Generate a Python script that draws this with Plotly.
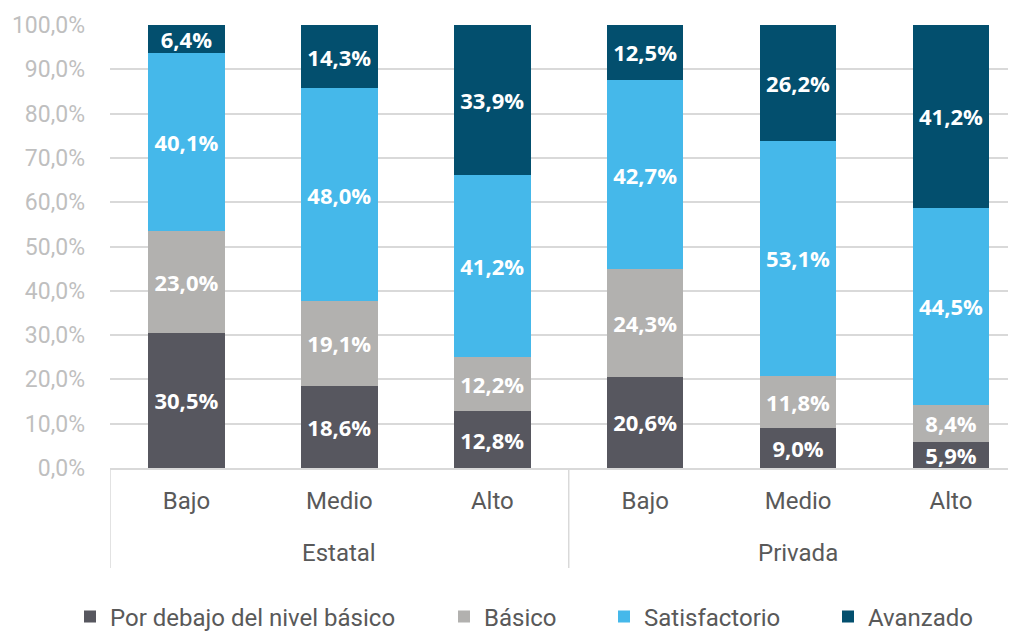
import plotly.graph_objects as go

groups = ["Estatal", "Estatal", "Estatal", "Privada", "Privada", "Privada"]
levels = ["Bajo", "Medio", "Alto", "Bajo", "Medio", "Alto"]

series_names = ["Por debajo del nivel básico", "Básico", "Satisfactorio", "Avanzado"]
por_debajo = [30.5, 18.6, 12.8, 20.6, 9.0, 5.9]
basico = [23.0, 19.1, 12.2, 24.3, 11.8, 8.4]
satisfactorio = [40.1, 48.0, 41.2, 42.7, 53.1, 44.5]
avanzado = [6.4, 14.3, 33.9, 12.5, 26.2, 41.2]

colors = ["#57575f", "#b2b1af", "#45b8ea", "#034f6e"]
values = [por_debajo, basico, satisfactorio, avanzado]

# page body has an 8px margin; work in target-page pixels and shift
OFF = 8
W, H = 1016 - OFF, 631 - OFF
L, R, T = 110 - OFF, 0, 25 - OFF
B = H - (468 - OFF)
pw, ph = W - L - R, H - T - B

def px_x(p):
    return (p - OFF - L) / pw

def px_y(p):
    return (H - B - (p - OFF)) / ph

xpos = list(range(len(levels)))
legend_text_x = [110, 484, 644, 868]
legend_keys = ["legend", "legend2", "legend3", "legend4"]

fig = go.Figure()
for name, vals, col, lk in zip(series_names, values, colors, legend_keys):
    fig.add_trace(go.Bar(
        x=xpos, y=vals, name=name, legend=lk,
        marker=dict(color=col, line=dict(width=0)),
        texttemplate="%{y:.1f}%", textposition="inside",
        insidetextanchor="middle", constraintext="none",
        textfont=dict(family="Open Sans", size=22, color="white", weight="bold"),
        hoverinfo="skip",
    ))

legend_common = dict(orientation="h", yanchor="middle", y=px_y(617), xanchor="left",
                     font=dict(family="Roboto", size=24, color="#595959"),
                     itemwidth=30, bgcolor="rgba(0,0,0,0)", borderwidth=0)
lay = {}
for lk, tx in zip(legend_keys, legend_text_x):
    lay[lk] = dict(legend_common, x=px_x(tx - 40))

fig.update_layout(
    barmode="stack", bargap=0.5,
    separators=",.",
    width=W, height=H,
    margin=dict(l=L, r=R, t=T, b=B, autoexpand=False),
    paper_bgcolor="white", plot_bgcolor="white",
    uniformtext=dict(minsize=22, mode="show"),
    font=dict(family="Roboto", color="#595959"),
    showlegend=True,
    **lay,
)

# group labels (first level of the category hierarchy)
seen = []
for g in groups:
    if g not in seen:
        seen.append(g)
for g in seen:
    idx = [i for i, gg in enumerate(groups) if gg == g]
    fig.add_annotation(x=sum(idx) / len(idx), xref="x", y=px_y(553), yref="paper",
                       text=g, showarrow=False, yanchor="middle",
                       font=dict(family="Roboto", size=24, color="#595959"))

# group dividers
bounds = [-0.5] + [i - 0.5 for i in range(1, len(groups)) if groups[i] != groups[i - 1]]
for bx in bounds:
    fig.add_shape(type="line", xref="x", yref="paper", x0=bx, x1=bx,
                  y0=0, y1=px_y(568), line=dict(color="#d9d9d9", width=1.5))

fig.update_yaxes(range=[0, 100], dtick=10, tickformat=".1f", ticksuffix="%",
                 tickfont=dict(family="Roboto", size=23, color="#bfbfbf"),
                 showgrid=True, gridcolor="#d9d9d9", gridwidth=1.5,
                 zeroline=False, showline=False, ticklabelstandoff=24)
fig.update_xaxes(range=[-0.5, 5.425], tickmode="array", tickvals=xpos, ticktext=levels,
                 tickfont=dict(family="Roboto", size=24, color="#595959"),
                 showline=True, linecolor="#d9d9d9", linewidth=1.5,
                 showgrid=False, zeroline=False, ticks="", ticklabelstandoff=10)
fig.write_html("out.html")
